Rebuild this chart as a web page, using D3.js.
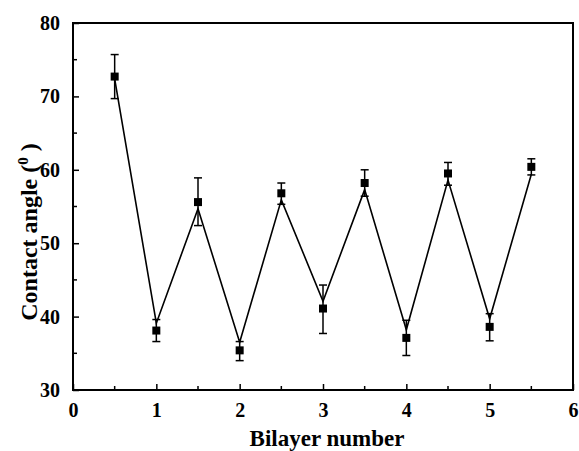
<!DOCTYPE html>
<html>
<head>
<meta charset="utf-8">
<script src="https://cdn.jsdelivr.net/npm/d3@7"></script>
<style>
  body { margin: 0; background: #fff; }
  svg text { font-family: "Liberation Serif", "Times New Roman", serif; font-weight: bold; fill: #000; }
</style>
</head>
<body>
<svg id="chart" width="579" height="451"></svg>
<script>
// bilayer positions (half-integers are the intermediate layer)
const bilayers = [0.5, 1, 1.5, 2, 2.5, 3, 3.5, 4, 4.5, 5, 5.5];
// measured contact angle (markers)
const angles = [72.7, 38.1, 55.6, 35.4, 56.8, 41.1, 58.2, 37.1, 59.5, 38.6, 60.4];
const errLow = [69.7, 36.6, 52.4, 34.0, 55.3, 37.7, 56.4, 34.7, 57.9, 36.7, 59.3];
const errHigh = [75.7, 39.6, 58.9, 36.6, 58.2, 44.3, 60.0, 39.5, 61.0, 40.4, 61.5];
// connecting line vertices (drawn slightly off the markers in the original)
const lineAngles = [72.4, 39.1, 54.7, 36.5, 55.9, 42.1, 57.3, 38.2, 58.6, 39.7, 59.4];
const xTicks = [0, 1, 2, 3, 4, 5, 6];
const yTicks = [30, 40, 50, 60, 70, 80];

const margin = { top: 23, right: 6, bottom: 61, left: 73 };
const width = 579, height = 451;
const innerW = width - margin.left - margin.right;
const innerH = height - margin.top - margin.bottom;

const svg = d3.select('#chart');
const g = svg.append('g')
	.attr('transform', 'translate(' + margin.left + ',' + margin.top + ')');

const xScale = d3.scaleLinear().domain([0, 6]).range([0, innerW]);
const yScale = d3.scaleLinear().domain([30, 80]).range([innerH, 0]);

// minor ticks (inward)
const xMinor = d3.range(0.5, 6, 1);
const yMinor = d3.range(35, 80, 10);
g.selectAll('.x-minor').data(xMinor).enter().append('line')
	.attr('x1', d => xScale(d)).attr('x2', d => xScale(d))
	.attr('y1', innerH).attr('y2', innerH - 4)
	.style('stroke', '#000').style('stroke-width', 1.5);
g.selectAll('.y-minor').data(yMinor).enter().append('line')
	.attr('x1', 0).attr('x2', 4)
	.attr('y1', d => yScale(d)).attr('y2', d => yScale(d))
	.style('stroke', '#000').style('stroke-width', 1.5);

// axes with inward major ticks
const xAxis = g.append('g')
	.attr('transform', 'translate(0,' + innerH + ')')
	.call(d3.axisBottom(xScale).tickValues(xTicks).tickFormat(d3.format('d'))
		.tickSizeInner(-6).tickSizeOuter(0).tickPadding(13));
const yAxis = g.append('g')
	.call(d3.axisLeft(yScale).tickValues(yTicks).tickFormat(d3.format('d'))
		.tickSizeInner(-6).tickSizeOuter(0).tickPadding(13));

[xAxis, yAxis].forEach(function(a) {
	a.select('.domain').remove();
	a.selectAll('.tick line').style('stroke', '#000').style('stroke-width', 1.5);
	a.selectAll('.tick text').style('font-size', '20px').style('font-family', '"Liberation Serif", serif').style('font-weight', 'bold');
});

// frame
g.append('rect')
	.attr('x', 0).attr('y', 0)
	.attr('width', innerW).attr('height', innerH)
	.style('fill', 'none').style('stroke', '#000').style('stroke-width', 2);

// connecting line
const line = d3.line()
	.x((d, i) => xScale(bilayers[i]))
	.y(d => yScale(d));
g.append('path')
	.datum(lineAngles)
	.attr('d', line)
	.style('fill', 'none').style('stroke', '#000').style('stroke-width', 1.6);

// error bars
const capW = 4;
const errG = g.selectAll('.err').data(bilayers).enter().append('g');
errG.append('line')
	.attr('x1', d => xScale(d)).attr('x2', d => xScale(d))
	.attr('y1', (d, i) => yScale(errLow[i])).attr('y2', (d, i) => yScale(errHigh[i]))
	.style('stroke', '#000').style('stroke-width', 1.5);
errG.append('line')
	.attr('x1', d => xScale(d) - capW).attr('x2', d => xScale(d) + capW)
	.attr('y1', (d, i) => yScale(errLow[i])).attr('y2', (d, i) => yScale(errLow[i]))
	.style('stroke', '#000').style('stroke-width', 1.5);
errG.append('line')
	.attr('x1', d => xScale(d) - capW).attr('x2', d => xScale(d) + capW)
	.attr('y1', (d, i) => yScale(errHigh[i])).attr('y2', (d, i) => yScale(errHigh[i]))
	.style('stroke', '#000').style('stroke-width', 1.5);

// square markers
const ms = 8;
g.selectAll('.marker').data(bilayers).enter().append('rect')
	.attr('x', d => xScale(d) - ms / 2)
	.attr('y', (d, i) => yScale(angles[i]) - ms / 2)
	.attr('width', ms).attr('height', ms)
	.style('fill', '#000');

// axis titles
svg.append('text')
	.attr('x', margin.left + innerW / 2 + 4)
	.attr('y', 446)
	.style('text-anchor', 'middle')
	.style('font-size', '23px')
	.text('Bilayer number');

const yTitle = svg.append('text')
	.attr('transform', 'translate(37,232) rotate(-90)')
	.style('text-anchor', 'middle')
	.style('font-size', '24px');
yTitle.append('tspan').text('Contact angle (');
yTitle.append('tspan').attr('dy', '-9').style('font-size', '15px').text('0');
yTitle.append('tspan').attr('dy', '9').text(' )');
</script>
</body>
</html>
